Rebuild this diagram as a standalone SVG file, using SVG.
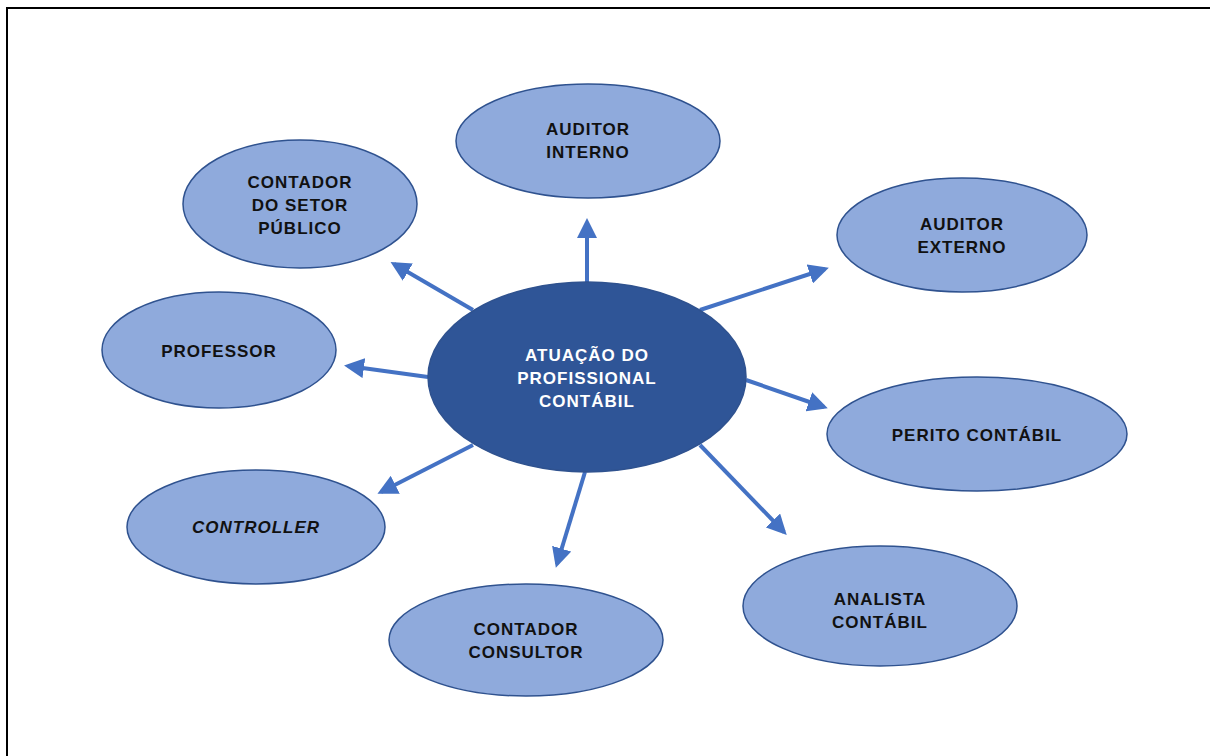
<svg xmlns="http://www.w3.org/2000/svg" width="1210" height="756" viewBox="0 0 1210 756">
<style>
.n{fill:#8faadc;stroke:#2f528f;stroke-width:1.5}
.c{fill:#2f5597;stroke:#2f528f;stroke-width:1.5}
.t{font-family:"Liberation Sans",Arial,sans-serif;font-weight:bold;font-size:17px;letter-spacing:1px;fill:#111111;text-anchor:middle}
.w{fill:#ffffff}
.e{stroke:#4472c4;stroke-width:4;fill:none;marker-end:url(#ah)}
</style>
<defs>
<marker id="ah" markerWidth="5" markerHeight="5" refX="4" refY="2.5" orient="auto" markerUnits="strokeWidth">
<path d="M0,0 L5,2.5 L0,5 Z" fill="#4472c4"/>
</marker>
</defs>
<rect width="1210" height="756" fill="#ffffff"/>
<path d="M7,756 V8 H1210" fill="none" stroke="#000" stroke-width="2"/>
<g id="connectors">
<line class="e" x1="587" y1="282" x2="587" y2="222"/>
<line class="e" x1="473" y1="310" x2="394" y2="264"/>
<line class="e" x1="428" y1="377" x2="348" y2="366"/>
<line class="e" x1="473" y1="445" x2="381" y2="492"/>
<line class="e" x1="585" y1="472" x2="557" y2="564"/>
<line class="e" x1="700" y1="445" x2="784" y2="532"/>
<line class="e" x1="746" y1="380" x2="824" y2="407"/>
<line class="e" x1="700" y1="310" x2="825" y2="269"/>
</g>
<g id="center"><ellipse class="c" cx="587" cy="377" rx="159" ry="95"/>
<text class="t w" x="587" y="361">ATUAÇÃO DO</text><text class="t w" x="587" y="384">PROFISSIONAL</text><text class="t w" x="587" y="407">CONTÁBIL</text></g>
<g id="auditor-interno"><ellipse class="n" cx="588" cy="141" rx="132" ry="57"/>
<text class="t" x="588" y="135">AUDITOR</text><text class="t" x="588" y="158">INTERNO</text></g>
<g id="contador-setor-publico"><ellipse class="n" cx="300" cy="204" rx="117" ry="64"/>
<text class="t" x="300" y="188">CONTADOR</text><text class="t" x="300" y="211">DO SETOR</text><text class="t" x="300" y="234">PÚBLICO</text></g>
<g id="auditor-externo"><ellipse class="n" cx="962" cy="235" rx="125" ry="57"/>
<text class="t" x="962" y="230">AUDITOR</text><text class="t" x="962" y="253">EXTERNO</text></g>
<g id="professor"><ellipse class="n" cx="219" cy="350" rx="117" ry="58"/>
<text class="t" x="219" y="357">PROFESSOR</text></g>
<g id="perito-contabil"><ellipse class="n" cx="977" cy="434" rx="150" ry="57"/>
<text class="t" x="977" y="441">PERITO CONTÁBIL</text></g>
<g id="controller"><ellipse class="n" cx="256" cy="527" rx="129" ry="57"/>
<text class="t" x="256" y="533" font-style="italic">CONTROLLER</text></g>
<g id="contador-consultor"><ellipse class="n" cx="526" cy="640" rx="137" ry="56"/>
<text class="t" x="526" y="635">CONTADOR</text><text class="t" x="526" y="658">CONSULTOR</text></g>
<g id="analista-contabil"><ellipse class="n" cx="880" cy="606" rx="137" ry="60"/>
<text class="t" x="880" y="605">ANALISTA</text><text class="t" x="880" y="628">CONTÁBIL</text></g>
</svg>
